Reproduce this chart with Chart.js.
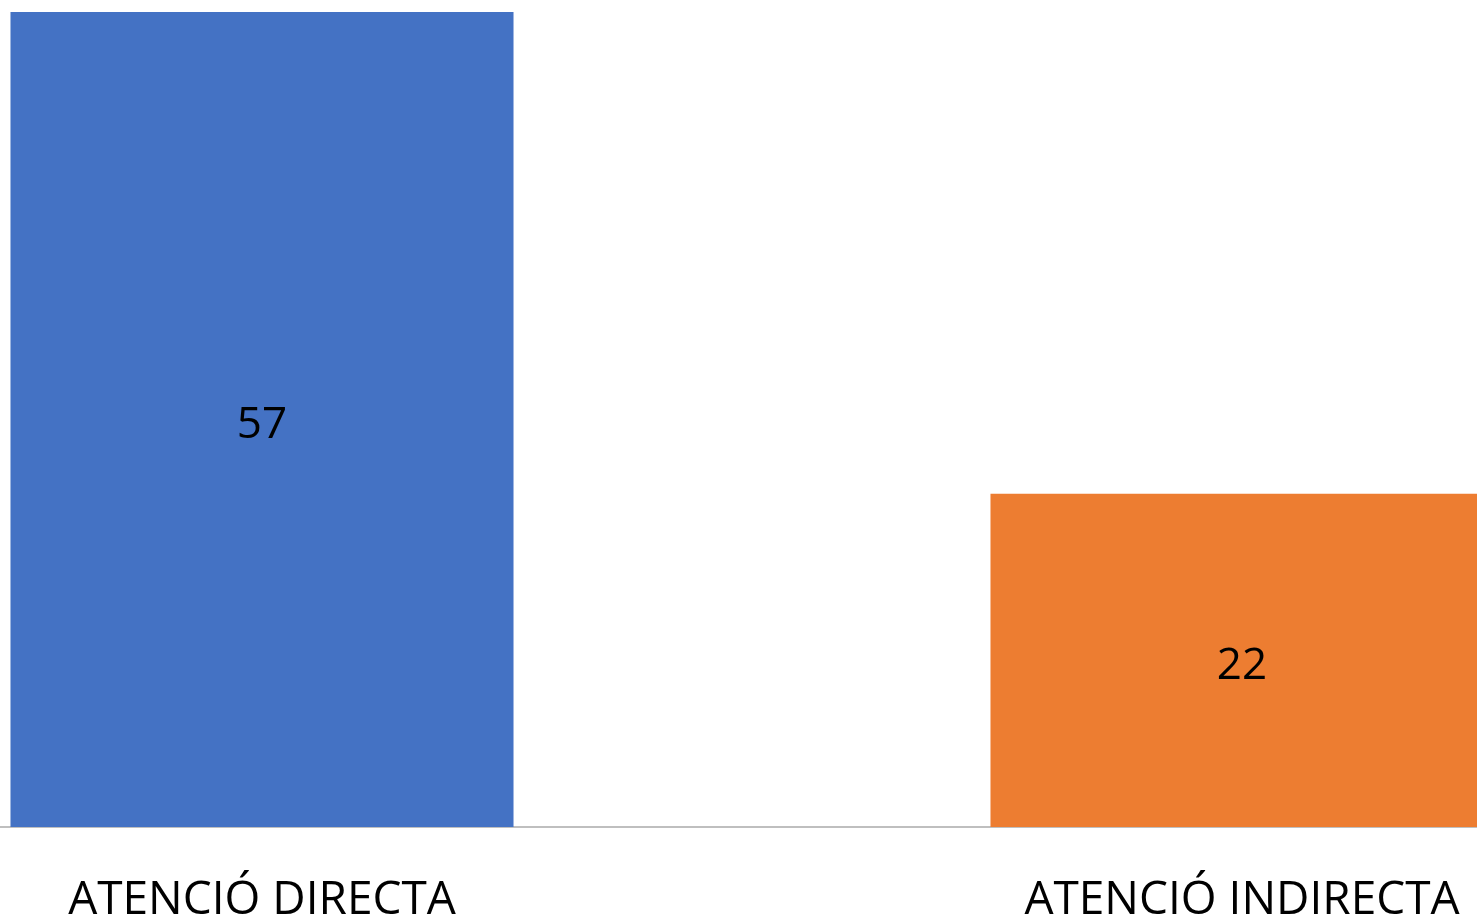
<!DOCTYPE html>
<html>
<head>
<meta charset="utf-8">
<script src="https://cdn.jsdelivr.net/npm/chart.js@4"></script>
<style>
    html, body { margin: 0; padding: 0; background: #fff; overflow: hidden; }
    body { width: 1477px; height: 919px; position: relative; }
    /* the source picture is a crop of a wider chart, so the canvas overhangs both sides */
    #wrap { position: absolute; left: -228px; top: 0; width: 1960px; height: 919px; }
</style>
</head>
<body>
<div id="wrap"><canvas id="chart"></canvas></div>
<script>
const categories = ['ATENCIÓ DIRECTA', 'ATENCIÓ INDIRECTA'];
const values = [57, 22];
const barColors = ['#4472C4', '#ED7D31'];

const labelFont = '"Open Sans", "Liberation Sans", sans-serif';

// value labels centred in the visible part of each bar
const centerLabels = {
    id: 'centerLabels',
    afterDatasetsDraw(chart) {
        const ctx = chart.ctx;
        const area = chart.chartArea;
        const meta = chart.getDatasetMeta(0);
        ctx.save();
        ctx.font = '44px ' + labelFont;
        ctx.fillStyle = '#000';
        ctx.textAlign = 'center';
        ctx.textBaseline = 'middle';
        meta.data.forEach((bar, i) => {
            const top = Math.max(bar.y, area.top);
            ctx.fillText(String(values[i]), bar.x, (top + bar.base) / 2 + 6);
        });
        ctx.restore();
    }
};

document.addEventListener('DOMContentLoaded', function () {
    const ctx = document.getElementById('chart').getContext('2d');
    new Chart(ctx, {
        type: 'bar',
        data: {
            labels: categories,
            datasets: [{
                data: values,
                backgroundColor: barColors,
                borderWidth: 0,
                categoryPercentage: 1,
                barPercentage: 0.5133
            }]
        },
        options: {
            responsive: true,
            maintainAspectRatio: false,
            animation: false,
            layout: { padding: { top: 12, left: 0, right: 0, bottom: 0 } },
            plugins: {
                legend: { display: false },
                tooltip: { enabled: false }
            },
            scales: {
                x: {
                    grid: { display: false, drawTicks: false },
                    border: { display: true, color: '#BFBFBF', width: 2 },
                    ticks: {
                        color: '#000',
                        padding: 46,
                        font: { family: labelFont, size: 46 }
                    },
                    afterFit(scale) { scale.height = 92; }
                },
                y: {
                    display: false,
                    min: 0,
                    max: 53.8
                }
            }
        },
        plugins: [centerLabels]
    });
});
</script>
</body>
</html>
